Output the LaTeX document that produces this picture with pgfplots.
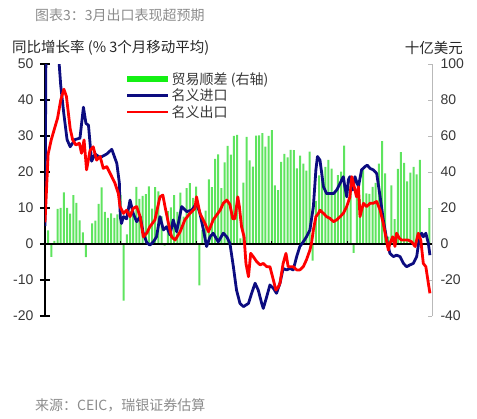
\documentclass[border=0pt]{standalone}
\usepackage{fontspec}
\setmainfont{Liberation Sans}
\newfontfamily\cjk{Noto Sans CJK SC}
\usepackage{pgfplots}
\pgfplotsset{compat=1.18}
\usepackage{pgfplotstable}

\definecolor{navy}{RGB}{12,12,128}
\definecolor{bargreen}{RGB}{95,228,95}
\definecolor{lggreen}{RGB}{20,240,20}
\definecolor{txt}{RGB}{55,55,55}
\definecolor{ttl}{RGB}{140,140,140}

\pgfplotstableread{
m v
0 14.2
1 7.6
2 -7.2
3 1.7
4 19.5
5 20.0
6 28.7
7 20.0
8 16.9
9 27.2
10 22.9
11 13.1
12 6.5
13 -7.3
14 0.1
15 11.4
16 13.0
17 22.3
18 31.5
19 17.8
20 14.5
21 17.0
22 14.5
23 16.5
24 27.3
25 -31.5
26 5.4
27 18.4
28 18.7
29 31.7
30 25.1
31 26.7
32 27.7
33 32.0
34 19.6
35 31.6
36 29.2
37 15.3
38 -0.9
39 18.2
40 20.4
41 27.1
42 17.8
43 28.5
44 15.2
45 31.1
46 33.8
47 25.6
48 31.9
49 -23.0
50 7.7
51 18.5
52 35.9
53 31.6
54 47.3
55 49.8
56 31.0
57 45.4
58 54.5
59 49.6
60 60.0
61 60.6
62 3.1
63 34.1
64 59.5
65 46.5
66 43.0
67 60.2
68 60.3
69 61.6
70 54.1
71 60.1
72 63.3
73 32.6
74 29.9
75 45.6
76 50.0
77 48.1
78 52.3
79 52.1
80 42.0
81 49.1
82 44.6
83 40.8
84 51.3
85 -9.2
86 24.0
87 38.1
88 40.8
89 42.8
90 46.7
91 41.9
92 28.5
93 38.2
94 40.2
95 54.7
96 20.3
97 33.7
98 -5.0
99 28.8
100 24.9
101 41.6
102 28.1
103 27.9
104 31.7
105 34.0
106 44.7
107 57.1
108 39.2
109 4.1
110 32.6
111 13.8
112 41.7
113 51.0
114 45.1
115 34.8
116 39.7
117 42.8
118 38.7
119 46.8
122 19.9
}\bardata

\pgfplotstableread{
m v
0 5
0.4 70
4 56
5 44
6 36
7 29
8 27
9.5 29
11.1 29.4
12.2 38
13 33.5
13.8 33
14.8 23
15.9 25
17.5 24
19.6 25
21.2 26.3
22.8 22.4
23.6 17
23.9 7.6
24.3 5.7
24.9 7.6
25.9 7
27 12.2
28 8.5
29.1 6.2
30.2 7.6
31.2 3
32.3 0.4
33.3 -0.3
34.4 0.6
35.4 2
36.5 7.6
37.6 3.9
38.6 4.8
39.7 2.5
40.7 6.7
41.8 3.4
43.4 10.4
45 9
46.6 9.4
48.1 11.3
49.2 8.5
50.3 3.9
51.3 -0.7
52.4 2
53.4 3
55 0.6
56.6 3
57.7 2
58.7 0.2
59.8 -6.3
60.8 -12.8
61.9 -16.5
63 -17.4
64.6 -16.5
65.6 -13.7
66.7 -10.9
67.7 -12.8
68.8 -16.5
69.3 -17.9
70.4 -14.6
71.4 -11.4
72.5 -12.3
73.5 -13.7
74.6 -10.9
75.6 -6.8
76.7 -7.2
77.8 -6.8
78.8 -7.2
79.9 -3.5
80.9 -0.7
82 0.6
83 2
84.1 3.9
85.2 10.4
86 20.6
86.5 24.3
87.3 23.3
88.4 15.9
89.4 14
91.6 14
92.6 15
93.7 16.9
94.7 18.7
95.2 15.9
95.8 13.1
96.3 17.8
96.8 18.7
97.7 15
98.4 18.7
99.5 15.9
100.5 20.6
101.6 21.5
102.3 21.9
103.2 21
104.2 20.6
105.3 19.6
106.4 13.1
107.4 6.7
108.5 1.1
109.5 -2.6
110.6 -3.5
111.6 -3.1
112.7 -3.5
113.8 -5.4
114.8 -6.3
115.9 -5.8
116.9 -5.4
118 -3.5
118.9 2
119.6 3
120.1 2
120.9 3
121.7 0.2
122.2 -3.1
}\impdata

\pgfplotstableread{
m v
0 6
1 25
2 29
3 32
4 35
5 40
6 43
6.8 41
8 32
8.8 28.9
9.8 27.5
10.9 28
11.6 25.2
12.4 28.9
13.2 20.6
14.3 26
15.3 27
16.4 23.3
17.5 24.3
18.5 21
19.6 21.5
21.2 18.7
22.2 16.9
23.3 14
23.8 10.4
24.9 8.5
25.9 9.4
27 7.6
28 9.9
29.1 10.4
30.2 7.6
31.2 2
32.3 3
33.3 4.8
34.9 6.7
36.5 13.1
37.4 13.6
38.1 10.4
39.2 5.7
40.2 2
41.3 1.1
42.9 3.4
44.4 6.7
46 8.5
47.6 9.9
48.1 13.1
49.2 8.5
50.8 5.7
51.9 3.4
53.4 6.7
55.6 9.4
56.6 11.3
57.7 12.2
58.7 11
59.6 7
60.3 7
61.2 13.1
61.7 10.4
62.4 4.8
63.2 2
63.8 -5.4
64.6 -9.1
65.3 -2.6
66.1 -3.5
67.2 -4.9
68.3 -5.8
69.3 -5.4
70.4 -6.3
71.4 -6.3
72.5 -10
73.3 -12.8
74.1 -11.9
74.6 -10.9
75.6 -5.4
76.5 -2.6
77.2 -6.3
78.8 -6.3
79.9 -7.2
80.9 -7.2
82 -6.3
83 -4.4
84.1 -1.7
84.6 0.2
85.2 3.9
86 7.6
86.8 8.5
87.3 9.4
88.4 8.5
89.4 7.6
90.5 7.1
91.6 6.2
92.6 6.7
93.7 7.6
94.7 8.5
95.8 10.4
96.8 13.1
97.4 18.7
97.9 16.9
98.4 15
98.9 13.1
99.5 15.9
100 7.6
100.5 9.4
101.1 11.3
102.1 10.4
103.2 11.3
104.2 11.3
105.3 11.8
106.4 9.4
107.4 5.7
108.2 2
109 -1.7
109.5 0.2
110.4 2
111.1 -0.7
111.6 3
112.5 1.6
113.2 1.1
115.3 1.1
116.4 0.6
117.5 -0.7
118.5 3
119.3 1.1
120.1 -5.4
120.9 -6.3
121.7 -10.9
122.2 -13.7
}\expdata

\begin{document}
\begin{tikzpicture}
\useasboundingbox (-45pt,-103pt) rectangle (432pt,316pt);
% right axis with trade balance bars
\begin{axis}[scale only axis, width=387pt, height=252pt, at={(0pt,0pt)}, anchor=south west,
  xmin=0, xmax=122.86, ymin=-40, ymax=100,
  axis x line=none, axis y line*=right,
  y axis line style={draw=gray!55, line width=0.8pt},
  ytick={-40,-20,...,100},
  tick style={draw=gray!55, line width=0.8pt}, major tick length=4pt, tick align=inside,
  yticklabel style={font=\fontsize{14}{16}\selectfont, text=txt, xshift=5pt},
  /pgf/number format/assume math mode=true]
\addplot[ybar, bar width=2.0pt, fill=bargreen, draw=none] table[x=m,y=v] {\bardata};
\end{axis}
% left axis with growth lines
\begin{axis}[scale only axis, width=387pt, height=252pt, at={(0pt,0pt)}, anchor=south west,
  xmin=0, xmax=122.86, ymin=-20, ymax=50,
  axis y line*=left, axis x line*=bottom,
  x axis line style={draw=none},
  xtick={0,24,48,72,96,120}, xticklabels={2010,2012,2014,2016,2018,2020},
  xmajorticks=false,
  xticklabel style={font=\fontsize{14}{16}\selectfont, text=txt, yshift=-7pt},
  ytick={-20,-10,...,50},
  y axis line style={draw=black, line width=1.3pt},
  tick style={draw=black, line width=1.1pt}, major tick length=10pt, tick align=center,
  yticklabel style={font=\fontsize{14}{16}\selectfont, text=txt, xshift=-3pt},
  /pgf/number format/assume math mode=true,
  legend style={at={(0.204,0.970)}, anchor=north west, draw=none, fill=none,
    font=\cjk\fontsize{14}{16}\selectfont, text=txt, inner sep=0pt, row sep=2pt,
    nodes={inner sep=0.6pt}},
  legend cell align=left,
  legend image code/.code={\draw[#1] (0pt,0pt) -- (41pt,0pt);}]
\addlegendimage{lggreen, line width=6pt}
\addlegendentry{贸易顺差 (右轴)}
\addplot[black, line width=1.3pt, forget plot] coordinates {(0,0) (122.86,0)};
\addplot[black, line width=1.2pt, ycomb, forget plot] coordinates {(24,0.9) (48,0.9) (72,0.9) (96,0.9)};
\addplot[navy, line width=2.8pt, line join=round] table[x=m,y=v] {\impdata};
\addlegendentry{名义进口}
\addplot[red, line width=2.8pt, line join=round] table[x=m,y=v] {\expdata};
\addlegendentry{名义出口}
\end{axis}
\node[anchor=west, text=ttl, font=\cjk\fontsize{14}{16}\selectfont, inner sep=0pt] at (-10pt,301pt) {图表3：3月出口表现超预期};
\node[anchor=west, text=black!85, font=\cjk\fontsize{14.5}{16}\selectfont, inner sep=0pt] at (-33pt,268pt) {同比增长率 (\% 3个月移动平均)};
\node[anchor=east, text=black!85, font=\cjk\fontsize{14.5}{16}\selectfont, inner sep=0pt] at (418pt,268pt) {十亿美元};
\node[anchor=west, text=ttl, font=\cjk\fontsize{14}{16}\selectfont, inner sep=0pt] at (-10pt,-89pt) {来源：CEIC，瑞银证券估算};
\end{tikzpicture}
\end{document}
